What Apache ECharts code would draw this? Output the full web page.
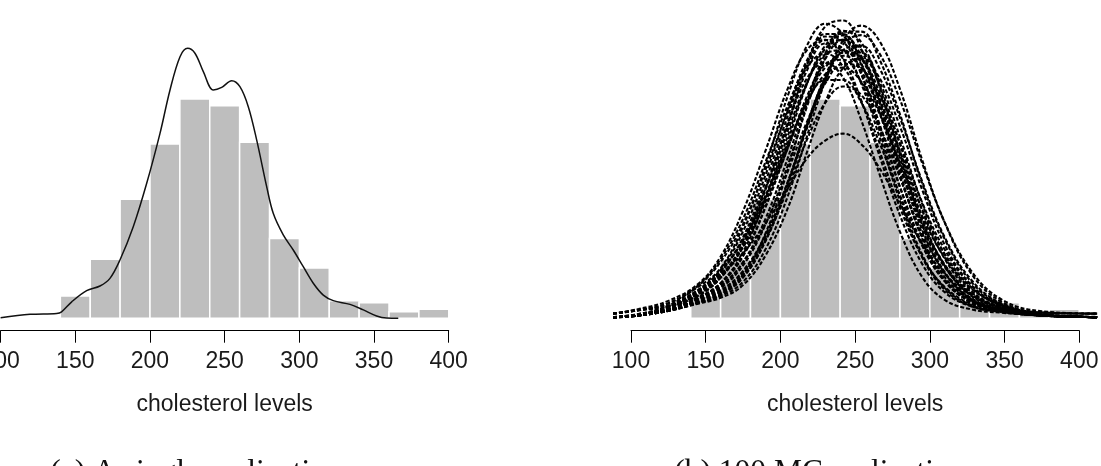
<!DOCTYPE html>
<html>
<head>
<meta charset="utf-8">
<script src="https://cdn.jsdelivr.net/npm/echarts@6/dist/echarts.min.js"></script>
<style>
html, body { margin: 0; padding: 0; background: #fff; }
#chart { width: 1101px; height: 466px; }
</style>
</head>
<body>
<div id="chart"></div>
<script>
// histogram of cholesterol levels (density x 1000), same in both panels
const histEdges = [140, 160, 180, 200, 220, 240, 260, 280, 300, 320, 340, 360, 380, 400];
const histDensity = [0.96, 2.54, 5.12, 7.50, 9.44, 9.15, 7.58, 3.44, 2.17, 0.76, 0.67, 0.28, 0.39];

const tickLabels = [100, 150, 200, 250, 300, 350, 400];

// (a) kernel density of the single replication
const kdeX = [100, 119.7, 137.5, 140.8, 147.6, 157.6, 166.5, 173.2, 179.9, 188.8, 197.8, 206.7, 213.4, 220.1, 225.2, 230.1, 235.7, 242.4, 248, 254.7, 260.2, 265.8, 271.4, 278.1, 282.5, 289.2, 295.9, 302.6, 309.3, 316, 322.7, 333.9, 342.8, 351.7, 358.4, 366.2];
const kdeY = [0.02, 0.17, 0.21, 0.28, 0.71, 1.19, 1.39, 1.72, 2.51, 3.94, 5.81, 7.96, 9.83, 11.26, 11.62, 11.41, 10.62, 9.83, 9.94, 10.23, 9.97, 9.11, 7.68, 5.67, 4.52, 3.59, 2.94, 2.22, 1.51, 1.00, 0.76, 0.60, 0.36, 0.10, 0.01, 0.0];

// (b) Monte Carlo replications (a sample of the dashed curves)
const mcX = [88, 105, 125, 145, 160, 175, 190, 205, 218, 230, 242, 254, 266, 280, 295, 310, 328, 348, 375, 412];
const mcRuns = [
  [0.2, 0.35, 0.65, 1.35, 2.16, 3.95, 6.56, 9.59, 11.77, 12.68, 12.22, 10.54, 8.15, 5.25, 2.74, 1.31, 0.56, 0.29, 0.12, 0.05],
  [0.04, 0.14, 0.44, 1.10, 1.96, 3.49, 5.89, 8.72, 11.0, 12.24, 12.24, 11.0, 8.93, 6.11, 3.50, 1.77, 0.76, 0.34, 0.12, 0.05],
  [0.04, 0.13, 0.37, 0.88, 1.49, 2.67, 4.80, 7.63, 10.13, 11.74, 12.18, 11.31, 9.42, 6.59, 3.79, 1.95, 0.82, 0.35, 0.12, 0.05],
  [0.04, 0.13, 0.37, 0.84, 1.36, 2.42, 4.28, 6.91, 9.40, 11.16, 11.99, 11.57, 10.08, 7.50, 4.63, 2.56, 1.11, 0.45, 0.14, 0.05],
  [0.04, 0.13, 0.36, 0.81, 1.30, 2.28, 4.04, 6.60, 9.15, 11.19, 12.34, 12.34, 11.19, 8.79, 5.79, 3.41, 1.55, 0.62, 0.25, 0.2],
  [0.04, 0.12, 0.36, 0.76, 1.16, 1.99, 3.54, 5.88, 8.30, 10.25, 11.54, 11.73, 10.80, 8.64, 5.88, 3.49, 1.64, 0.64, 0.18, 0.05],
  [0.04, 0.15, 0.47, 1.18, 2.02, 3.42, 5.59, 8.09, 10.18, 11.36, 11.54, 10.66, 8.96, 6.47, 3.99, 2.20, 1.01, 0.44, 0.14, 0.05],
  [0.04, 0.15, 0.46, 1.10, 1.83, 3.06, 5.01, 7.33, 9.44, 10.80, 11.3, 10.80, 9.44, 7.20, 4.67, 2.77, 1.32, 0.56, 0.17, 0.05],
  [0.2, 0.35, 0.5, 0.98, 1.74, 3.16, 5.53, 8.44, 10.70, 11.83, 11.59, 10.12, 7.87, 5.05, 2.62, 1.23, 0.52, 0.28, 0.12, 0.05],
  [0.04, 0.12, 0.32, 0.67, 1.00, 1.76, 3.35, 5.81, 8.35, 10.34, 11.43, 11.20, 9.78, 7.19, 4.31, 2.25, 0.95, 0.38, 0.13, 0.05],
  [0.2, 0.35, 0.55, 0.98, 1.77, 3.26, 5.63, 8.37, 10.35, 11.0, 10.35, 8.55, 6.27, 3.73, 1.77, 0.79, 0.38, 0.24, 0.12, 0.05],
  [0.04, 0.12, 0.32, 0.63, 0.88, 1.43, 2.70, 4.75, 7.19, 9.30, 10.77, 11.18, 10.38, 8.27, 5.52, 3.16, 1.41, 0.53, 0.25, 0.2],
  [0.05, 0.17, 0.52, 1.23, 2.06, 3.35, 5.28, 7.53, 9.33, 10.50, 10.79, 10.20, 8.86, 6.69, 4.40, 2.61, 1.27, 0.57, 0.17, 0.05],
  [0.04, 0.15, 0.45, 1.09, 1.85, 3.14, 5.15, 7.43, 9.31, 10.26, 10.26, 9.31, 7.61, 5.30, 3.12, 1.65, 0.76, 0.36, 0.13, 0.05],
  [0.04, 0.12, 0.34, 0.73, 1.11, 1.88, 3.40, 5.58, 7.72, 9.27, 9.98, 9.62, 8.30, 6.07, 3.65, 1.97, 0.86, 0.37, 0.13, 0.05],
  [0.05, 0.18, 0.5, 1.2, 1.9, 2.8, 4.1, 5.6, 6.9, 7.65, 7.95, 7.5, 6.5, 4.9, 3.2, 1.9, 1.0, 0.5, 0.18, 0.06],
  [0.2, 0.4, 0.75, 1.48, 2.66, 4.62, 7.21, 9.90, 11.57, 11.99, 11.16, 9.40, 7.06, 4.44, 2.33, 1.12, 0.51, 0.28, 0.12, 0.05],
  [0.04, 0.12, 0.33, 0.66, 0.95, 1.57, 2.97, 5.27, 7.88, 10.21, 11.97, 12.6, 11.97, 9.87, 6.80, 4.12, 1.90, 0.72, 0.25, 0.2],
  [0.04, 0.12, 0.36, 0.87, 1.52, 2.85, 5.19, 8.28, 10.97, 12.56, 12.82, 11.60, 9.37, 6.28, 3.42, 1.65, 0.68, 0.31, 0.12, 0.05],
  [0.04, 0.13, 0.39, 0.89, 1.41, 2.40, 4.06, 6.34, 8.49, 10.11, 10.95, 10.76, 9.66, 7.54, 4.97, 2.96, 1.41, 0.58, 0.16, 0.05],
  [0.04, 0.15, 0.46, 1.17, 2.10, 3.74, 6.16, 9.0, 11.13, 12.13, 11.91, 10.54, 8.43, 5.65, 3.14, 1.59, 0.69, 0.33, 0.12, 0.05],
  [0.04, 0.12, 0.33, 0.70, 1.04, 1.77, 3.32, 5.72, 8.22, 10.23, 11.44, 11.44, 10.23, 7.81, 4.92, 2.74, 1.19, 0.46, 0.14, 0.05],
  [0.04, 0.14, 0.42, 1.03, 1.75, 3.08, 5.17, 7.86, 10.14, 11.60, 11.99, 11.21, 9.52, 6.91, 4.19, 2.31, 1.02, 0.44, 0.14, 0.05],
  [0.2, 0.35, 0.65, 1.43, 2.55, 4.28, 6.72, 9.17, 10.83, 11.4, 10.83, 9.35, 7.26, 4.77, 2.64, 1.35, 0.61, 0.31, 0.12, 0.05],
  [0.04, 0.13, 0.36, 0.78, 1.21, 2.04, 3.59, 5.87, 8.36, 10.43, 11.80, 12.19, 11.43, 9.42, 6.66, 4.13, 2.02, 0.81, 0.3, 0.2],
  [0.04, 0.12, 0.32, 0.67, 1.03, 1.87, 3.65, 6.40, 9.29, 11.40, 12.38, 11.89, 10.04, 7.07, 4.03, 1.98, 0.78, 0.33, 0.13, 0.05],
  [0.04, 0.13, 0.38, 0.90, 1.51, 2.72, 4.78, 7.34, 9.58, 10.93, 11.13, 10.17, 8.27, 5.66, 3.21, 1.61, 0.69, 0.32, 0.12, 0.05],
  [0.05, 0.18, 0.55, 1.40, 2.43, 4.06, 6.39, 8.93, 10.94, 11.97, 11.97, 10.94, 9.14, 6.61, 4.04, 2.29, 1.06, 0.46, 0.14, 0.05]
];

const captions = ['(a) A single replication', '(b) 100 MC replications'];
const xName = 'cholesterol levels';

var myChart = echarts.init(document.getElementById('chart'));

var histData = histDensity.map(function (d, i) { return [histEdges[i], histEdges[i + 1], d]; });

function renderBar(params, api) {
    var top = api.coord([api.value(0), api.value(2)]);
    var bottom = api.coord([api.value(1), 0]);
    return {
        type: 'rect',
        shape: { x: top[0], y: top[1], width: bottom[0] - top[0], height: bottom[1] - top[1] },
        style: { fill: '#bebebe', stroke: '#ffffff', lineWidth: 1.5 }
    };
}

function axisX(gridIndex) {
    return {
        gridIndex: gridIndex,
        type: 'value',
        min: tickLabels[0],
        max: tickLabels[tickLabels.length - 1],
        interval: tickLabels[1] - tickLabels[0],
        axisLine: { show: true, onZero: false, lineStyle: { color: '#000', width: 1 } },
        axisTick: { show: true, length: 12, lineStyle: { color: '#000', width: 1 } },
        axisLabel: { margin: 19, fontSize: 23, color: '#1a1a1a', fontFamily: 'Liberation Sans',
                     showMinLabel: true, showMaxLabel: true },
        splitLine: { show: false },
        name: xName,
        nameLocation: 'middle',
        nameGap: 62,
        nameTextStyle: { fontSize: 23, color: '#1a1a1a', fontFamily: 'Liberation Sans' }
    };
}

function hiddenX(gridIndex, min, max) {
    return { gridIndex: gridIndex, type: 'value', min: min, max: max, show: false };
}

var series = [
    { type: 'custom', xAxisIndex: 1, yAxisIndex: 1, renderItem: renderBar, data: histData,
      encode: { x: [0, 1], y: 2 }, silent: true },
    { type: 'line', xAxisIndex: 1, yAxisIndex: 1, showSymbol: false, smooth: 0.35,
      data: kdeX.map(function (x, i) { return [x, kdeY[i]]; }),
      lineStyle: { color: '#111', width: 1.5 }, silent: true },
    { type: 'custom', xAxisIndex: 3, yAxisIndex: 3, renderItem: renderBar, data: histData,
      encode: { x: [0, 1], y: 2 }, silent: true }
];
mcRuns.forEach(function (run) {
    series.push({
        type: 'line', xAxisIndex: 3, yAxisIndex: 3, showSymbol: false, smooth: 0.4,
        data: mcX.map(function (x, i) { return [x, run[i]]; }),
        lineStyle: { color: '#000', width: 2.1, type: [4, 2] }, silent: true
    });
});

myChart.setOption({
    animation: false,
    backgroundColor: '#fff',
    grid: [
        { left: 0.6, width: 448.1, top: 16.3, height: 314.4, outerBoundsMode: 'none' },
        { left: 0.6, width: 466.1, top: 16.3, height: 302, outerBoundsMode: 'none' },
        { left: 631, width: 448.3, top: 16.3, height: 314.4, outerBoundsMode: 'none' },
        { left: 608.6, width: 488.5, top: 16.3, height: 302, outerBoundsMode: 'none' }
    ],
    xAxis: [axisX(0), hiddenX(1, 100, 412), axisX(2), hiddenX(3, 85, 412)],
    yAxis: [
        { gridIndex: 0, type: 'value', min: 0, max: 1, show: false },
        { gridIndex: 1, type: 'value', min: 0, max: 13, show: false },
        { gridIndex: 2, type: 'value', min: 0, max: 1, show: false },
        { gridIndex: 3, type: 'value', min: 0, max: 13, show: false }
    ],
    graphic: [
        { type: 'text', x: 196, y: 473,
          style: { text: captions[0], x: 0, y: 0, align: 'center', verticalAlign: 'middle',
                   font: '31.5px "Liberation Serif"', fill: '#111' } },
        { type: 'text', x: 826, y: 473,
          style: { text: captions[1], x: 0, y: 0, align: 'center', verticalAlign: 'middle',
                   font: '31.5px "Liberation Serif"', fill: '#111' } }
    ],
    series: series
}, true);
</script>
</body>
</html>
